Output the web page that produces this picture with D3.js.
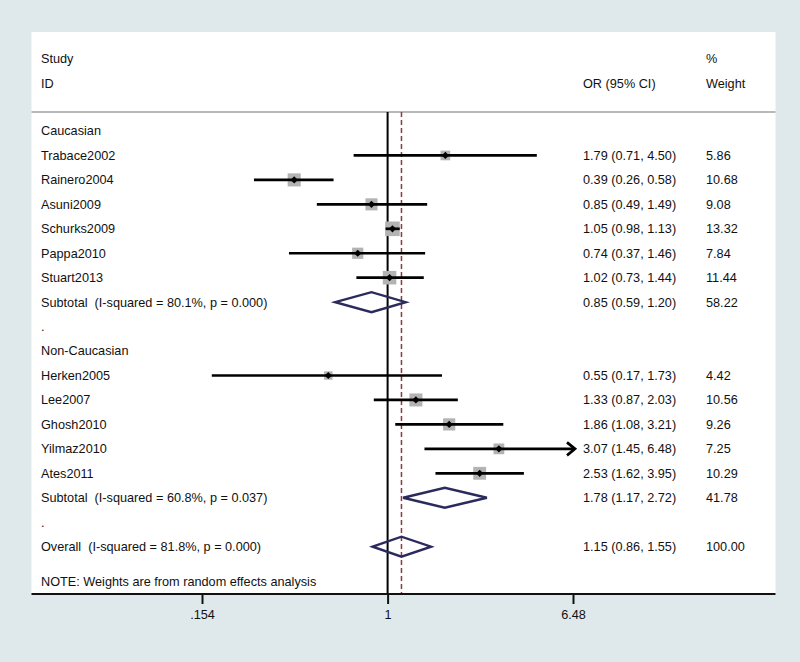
<!DOCTYPE html>
<html>
<head>
<meta charset="utf-8">
<script src="https://cdn.jsdelivr.net/npm/d3@7"></script>
<style>
  html, body { margin: 0; padding: 0; background: #dfe9ec; }
  svg { display: block; }
  text { font-family: "Liberation Sans", Arial, Helvetica, sans-serif; font-size: 12.7px; fill: #111; white-space: pre; }
</style>
</head>
<body>
<svg id="chart" width="800" height="662"></svg>
<script>
// ---- data ----
const groupNames = ["Caucasian", "Non-Caucasian"];
const studyGroups = [0, 0, 0, 0, 0, 0, 1, 1, 1, 1, 1];
const studies = ["Trabace2002", "Rainero2004", "Asuni2009", "Schurks2009", "Pappa2010", "Stuart2013",
                 "Herken2005", "Lee2007", "Ghosh2010", "Yilmaz2010", "Ates2011"];
const orValues = [1.79, 0.39, 0.85, 1.05, 0.74, 1.02, 0.55, 1.33, 1.86, 3.07, 2.53];
const ciLow    = [0.71, 0.26, 0.49, 0.98, 0.37, 0.73, 0.17, 0.87, 1.08, 1.45, 1.62];
const ciHigh   = [4.50, 0.58, 1.49, 1.13, 1.46, 1.44, 1.73, 2.03, 3.21, 6.48, 3.95];
const weights  = [5.86, 10.68, 9.08, 13.32, 7.84, 11.44, 4.42, 10.56, 9.26, 7.25, 10.29];
const subtotalLabels = ["Subtotal  (I-squared = 80.1%, p = 0.000)", "Subtotal  (I-squared = 60.8%, p = 0.037)"];
const subtotalOR   = [0.85, 1.78];
const subtotalLow  = [0.59, 1.17];
const subtotalHigh = [1.20, 2.72];
const subtotalW    = [58.22, 41.78];
const overallLabel = "Overall  (I-squared = 81.8%, p = 0.000)";
const overallOR = 1.15, overallLow = 0.86, overallHigh = 1.55, overallW = 100.00;
const tickValues = [0.154, 1, 6.48];
const tickLabels = [".154", "1", "6.48"];
const noteText = "NOTE: Weights are from random effects analysis";

// ---- layout ----
const svg = d3.select("#chart");
const W = 800, H = 662;
const panel = {x0: 31.5, x1: 775.5, y0: 32, y1: 594};
const sepY = 112;
const rowY0 = 131, rowStep = 24.45;
const colLabel = 41, colOR = 583, colW = 706;

const x = d3.scaleLog().domain([tickValues[0], tickValues[2]]).range([202, 573]);

svg.append("rect").attr("width", W).attr("height", H).attr("fill", "#dfe9ec");
svg.append("rect").attr("x", panel.x0).attr("y", panel.y0)
  .attr("width", panel.x1 - panel.x0).attr("height", panel.y1 - panel.y0).attr("fill", "#ffffff");

// header
const hdr = svg.append("g");
hdr.append("text").attr("x", colLabel).attr("y", 59).attr("dy", "0.35em").text("Study");
hdr.append("text").attr("x", colLabel).attr("y", 84).attr("dy", "0.35em").text("ID");
hdr.append("text").attr("x", colOR).attr("y", 84).attr("dy", "0.35em").text("OR (95% CI)");
hdr.append("text").attr("x", colW).attr("y", 59).attr("dy", "0.35em").text("%");
hdr.append("text").attr("x", colW).attr("y", 84).attr("dy", "0.35em").text("Weight");
svg.append("line").attr("x1", panel.x0).attr("x2", panel.x1).attr("y1", sepY).attr("y2", sepY)
  .attr("stroke", "#a0a0a0").attr("stroke-width", 1.5);

// build rows
const rows = [];
let r = 0;
for (let g = 0; g < groupNames.length; g++) {
  rows.push({type: "label", label: groupNames[g], i: r++});
  studies.forEach((s, k) => {
    if (studyGroups[k] === g) rows.push({type: "study", label: s, or: orValues[k], lo: ciLow[k], hi: ciHigh[k], w: weights[k], i: r++});
  });
  rows.push({type: "diamond", label: subtotalLabels[g], or: subtotalOR[g], lo: subtotalLow[g], hi: subtotalHigh[g], w: subtotalW[g], i: r++});
  rows.push({type: "label", label: ".", i: r++});
}
rows.push({type: "diamond", label: overallLabel, or: overallOR, lo: overallLow, hi: overallHigh, w: overallW, i: r++});
const yOf = i => rowY0 + i * rowStep;

// reference lines
svg.append("line").attr("x1", x(1)).attr("x2", x(1)).attr("y1", sepY).attr("y2", panel.y1)
  .attr("stroke", "#000").attr("stroke-width", 2);
svg.append("line").attr("x1", x(overallOR)).attr("x2", x(overallOR)).attr("y1", sepY).attr("y2", panel.y1)
  .attr("stroke", "#8a3a3f").attr("stroke-width", 1.5).attr("stroke-dasharray", "5,3");

const fmt = d3.format(".2f");
const dom = x.domain();
const clamp = v => Math.max(dom[0], Math.min(dom[1], v));

rows.forEach(d => {
  const y = yOf(d.i);
  svg.append("text").attr("x", colLabel).attr("y", y).attr("dy", "0.35em").attr("xml:space", "preserve").text(d.label);
  if (d.type === "label") return;
  svg.append("text").attr("x", colOR).attr("y", y).attr("dy", "0.35em")
    .text(`${fmt(d.or)} (${fmt(d.lo)}, ${fmt(d.hi)})`);
  svg.append("text").attr("x", colW).attr("y", y).attr("dy", "0.35em").text(fmt(d.w));
  if (d.type === "study") {
    const side = 4.0 * Math.sqrt(d.w);
    svg.append("rect").attr("x", x(d.or) - side / 2).attr("y", y - side / 2)
      .attr("width", side).attr("height", side).attr("fill", "#b3b3b3");
    const xl = x(clamp(d.lo)), xr = x(clamp(d.hi));
    svg.append("line").attr("x1", xl).attr("x2", xr).attr("y1", y).attr("y2", y)
      .attr("stroke", "#000").attr("stroke-width", 2.7);
    if (d.hi >= dom[1]) {
      const tip = xr + 2;
      svg.append("path").attr("d", `M${tip - 8},${y - 6.5}L${tip},${y}L${tip - 8},${y + 6.5}`)
        .attr("fill", "none").attr("stroke", "#000").attr("stroke-width", 2.7);
      svg.append("line").attr("x1", xr).attr("x2", tip).attr("y1", y).attr("y2", y)
        .attr("stroke", "#000").attr("stroke-width", 2.7);
    }
    const m = 3.6;
    svg.append("path").attr("d", `M${x(d.or)},${y - m}L${x(d.or) + m},${y}L${x(d.or)},${y + m}L${x(d.or) - m},${y}Z`)
      .attr("fill", "#000");
  } else {
    const h = 10;
    svg.append("path")
      .attr("d", `M${x(d.lo)},${y}L${x(d.or)},${y - h}L${x(d.hi)},${y}L${x(d.or)},${y + h}Z`)
      .attr("fill", "none").attr("stroke", "#2b2a5c").attr("stroke-width", 2.4);
  }
});

// note
svg.append("text").attr("x", colLabel).attr("y", 582).attr("dy", "0.35em").text(noteText);

// axis
svg.append("line").attr("x1", panel.x0).attr("x2", panel.x1).attr("y1", panel.y1).attr("y2", panel.y1)
  .attr("stroke", "#111").attr("stroke-width", 2);
const axis = d3.axisBottom(x).tickValues(tickValues).tickSize(10).tickPadding(6)
  .tickFormat((v, k) => tickLabels[k]);
const ag = svg.append("g").attr("transform", `translate(0,${panel.y1})`).call(axis);
ag.select(".domain").remove();
ag.selectAll(".tick line").attr("stroke", "#111").attr("stroke-width", 2);
ag.selectAll(".tick text").attr("font-size", "12.7px").attr("fill", "#111")
  .attr("font-family", "\"Liberation Sans\", Arial, Helvetica, sans-serif");
</script>
</body>
</html>
